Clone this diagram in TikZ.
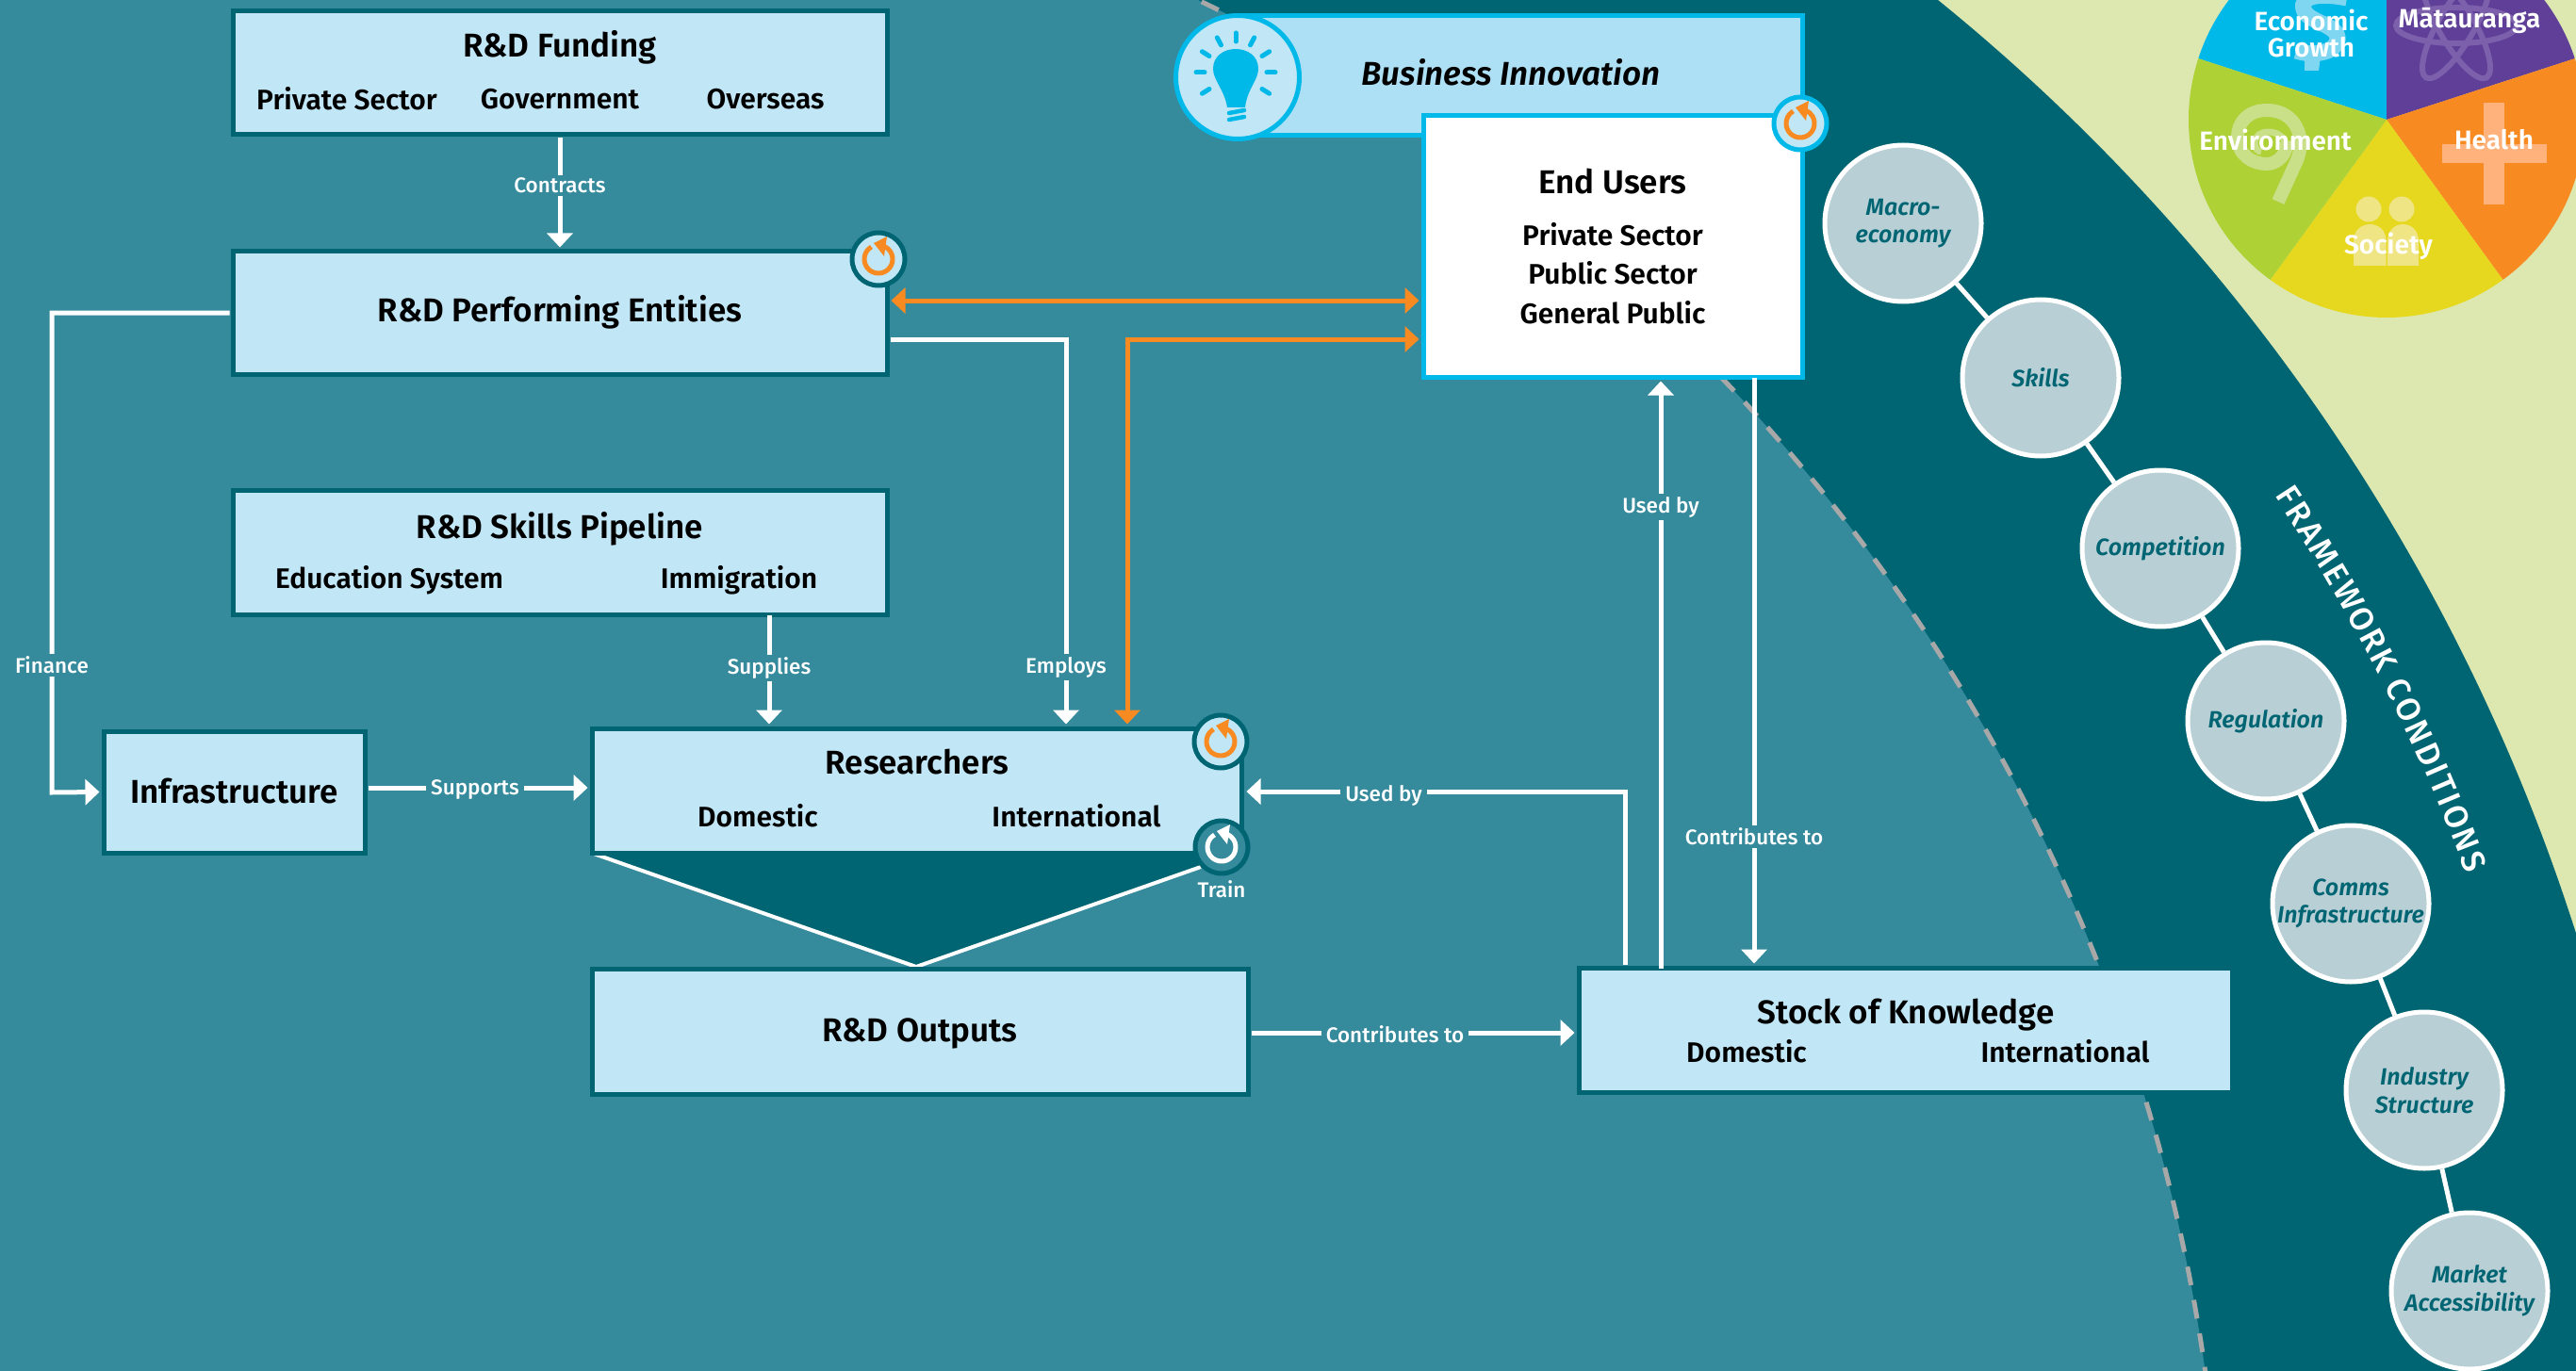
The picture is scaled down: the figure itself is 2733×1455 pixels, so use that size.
\documentclass[tikz,border=0pt]{standalone}
\usepackage{fontspec}
\setmainfont{Fira Sans}[UprightFont=* Medium,ItalicFont=* Medium Italic,BoldFont=* SemiBold,BoldItalicFont=* SemiBold Italic]
\usetikzlibrary{arrows.meta,decorations.text}
\definecolor{midteal}{HTML}{358A9C}
\definecolor{darkteal}{HTML}{006573}
\definecolor{lightbox}{HTML}{C1E6F6}
\definecolor{bizblue}{HTML}{ADE0F5}
\definecolor{cyanx}{HTML}{00B9E8}
\definecolor{orangex}{HTML}{F88A22}
\definecolor{greenbg}{HTML}{DCE8AF}
\definecolor{circfill}{HTML}{B8CFD5}
\definecolor{dashgrey}{HTML}{A8A8A8}
\definecolor{piepurple}{HTML}{5F3F97}
\definecolor{pieyellow}{HTML}{E6D81F}
\definecolor{piegreen}{HTML}{AED136}
\definecolor{iccyan}{HTML}{7FD6F1}
\definecolor{icpurple}{HTML}{7C60AB}
\definecolor{icorange}{HTML}{FFB27C}
\definecolor{icyellow}{HTML}{F0E585}
\definecolor{icgreen}{HTML}{C9DF88}
\newcommand{\fwfont}{\color{white}\fontsize{35}{38}\selectfont}
\tikzset{
  rdbox/.style={draw=darkteal,line width=5pt,fill=lightbox,inner sep=0pt},
  cybox/.style={draw=cyanx,line width=5pt,inner sep=0pt},
  title/.style={inner sep=0pt,font=\bfseries\fontsize{35}{40}\selectfont,text=black},
  sub/.style={inner sep=0pt,font=\bfseries\fontsize{30}{34}\selectfont,text=black},
  lbl/.style={fill=midteal,text=white,inner xsep=5pt,inner ysep=3pt,font=\fontsize{22.5}{26}\selectfont},
  wire/.style={draw=white,line width=5pt,-{Triangle[length=15pt,width=27pt]},shorten >=2pt,shorten <=1pt},
  owire/.style={draw=orangex,line width=5pt,{Triangle[length=15pt,width=27pt]}-{Triangle[length=15pt,width=27pt]},shorten >=2pt,shorten <=2pt},
  fcirc/.style={circle,draw=white,line width=5pt,fill=circfill,minimum size=166pt,inner sep=0pt,align=center,text=darkteal,font=\bfseries\itshape\fontsize{25}{29.5}\selectfont},
  badge/.style={circle,line width=5pt,minimum size=56pt,inner sep=0pt},
  pielbl/.style={inner sep=0pt,text=white,align=center,font=\bfseries\fontsize{28}{28}\selectfont},
  pics/resetsym/.style={code={
    \draw[#1,line width=5pt] (0,0)++(-120:15) arc[start angle=-120,end angle=-425,radius=15];
    \fill[#1] (9,-24) -- (-5,-17) -- (6,-3) -- cycle;
  }}
}
\begin{document}
\begin{tikzpicture}[x=1pt,y=-1pt]
\useasboundingbox (0,0) rectangle (2733,1455);
\clip (0,0) rectangle (2733,1455);
% backgrounds
\fill[greenbg] (0,0) rectangle (2733,1455);
\fill[darkteal] (740,1625) circle[radius=2091];
\fill[midteal] (453,1721) circle[radius=1905];
\draw[dashgrey,line width=5pt,dash pattern=on 20pt off 16pt] (453,1721) circle[radius=1905];
% pie
\coordinate (pc) at (2532,127);
\fill[cyanx] (pc) -- ++(-162:210) arc[start angle=-162,end angle=-90,radius=210] -- cycle;
\fill[piepurple] (pc) -- ++(-90:210) arc[start angle=-90,end angle=-18,radius=210] -- cycle;
\fill[orangex] (pc) -- ++(-18:210) arc[start angle=-18,end angle=54,radius=210] -- cycle;
\fill[pieyellow] (pc) -- ++(54:210) arc[start angle=54,end angle=126,radius=210] -- cycle;
\fill[piegreen] (pc) -- ++(126:210) arc[start angle=126,end angle=198,radius=210] -- cycle;
% pie icons
\draw[iccyan,line width=17pt] (2490,-2) .. controls (2460,-8) and (2440,-4) .. (2444,10) .. controls (2448,24) and (2482,26) .. (2480,42) .. controls (2478,56) and (2455,60) .. (2436,54);
\fill[iccyan] (2445,52) -- (2463,52) -- (2460,75) -- (2445,75) -- cycle;
\begin{scope}[shift={(2606,27)}]
\foreach \r in {0,60,120}
  \draw[icpurple,line width=6pt,rotate=\r] (0,0) circle[x radius=64,y radius=19];
\end{scope}
\fill[icorange] (2635,109) rectangle (2657,217);
\fill[icorange] (2591,153) rectangle (2702,173);
\fill[icyellow] (2513,222) circle[radius=13.5];
\fill[icyellow] (2548,222) circle[radius=13.5];
\fill[icyellow] (2497,282) -- (2497,256) .. controls (2497,232) and (2532,232) .. (2531.5,256) -- (2531.5,282) -- cycle;
\fill[icyellow] (2533,282) -- (2533,256) .. controls (2533,232) and (2566,232) .. (2566,256) -- (2566,282) -- cycle;
\draw[icgreen,line width=14pt] (2417,214) -- (2437,170) .. controls (2447,145) and (2435,117) .. (2405,117) .. controls (2385,117) and (2374,130) .. (2374,145) .. controls (2374,165) and (2390,174) .. (2405,174) .. controls (2417,174) and (2428,162) .. (2425,150);
\draw[icgreen,line width=7pt] (2425,152) .. controls (2420,136) and (2392,136) .. (2392,152) .. controls (2392,158) and (2396,161) .. (2399,161);
\node[pielbl] (pecon) at (2452,35) {Economic\\Growth};
\node[pielbl] (pmat) at (2620,22) {Mātauranga};
\node[pielbl] (penv) at (2414,148) {Environment};
\node[pielbl] (phea) at (2646,148) {Health};
\node[pielbl] (psoc) at (2534,261) {Society};
% framework chain
\node[fcirc] (cmac) at (2019,237) {Macro-\\economy};
\node[fcirc] (cski) at (2165,401) {Skills};
\node[fcirc] (ccom) at (2292,582) {Competition};
\node[fcirc] (creg) at (2404,765) {Regulation};
\node[fcirc] (ccms) at (2494,959) {Comms\\Infrastructure};
\node[fcirc] (cind) at (2572,1157) {Industry\\Structure};
\node[fcirc] (cmkt) at (2620,1370) {Market\\Accessibility};
\draw[white,line width=5pt] (cmac) -- (cski) (cski) -- (ccom) (ccom) -- (creg) (creg) -- (ccms) (ccms) -- (cind) (cind) -- (cmkt);
\path[decorate,decoration={text along path,text align={fit to path},text={|\fwfont|FRAMEWORK CONDITIONS}}]
  (740,1625) ++(-33.3:2002) arc[start angle=-33.3,end angle=-20.4,radius=2002];
% triangle under researchers
\coordinate (apex) at (972,1026);
\coordinate (triL) at (630,906);
\coordinate (triR) at (1274,920);
\fill[darkteal] (triL) -- (apex) -- (triR) -- (1296,905) -- cycle;
\draw[white,line width=4pt,line join=round] (triL) -- (apex) -- (triR);
% boxes
\node[rdbox,minimum width=694pt,minimum height=131pt] (fund) at (594,77.5) {};
\node[rdbox,minimum width=694pt,minimum height=130pt] (perf) at (594,332) {};
\node[rdbox,minimum width=694pt,minimum height=132pt] (skil) at (594,586) {};
\node[rdbox,minimum width=277pt,minimum height=129pt] (infra) at (248.5,840.5) {};
\node[rdbox,minimum width=689pt,minimum height=132pt] (res) at (972.5,839) {};
\node[rdbox,minimum width=696pt,minimum height=133pt] (outp) at (976,1094.5) {};
\node[rdbox,minimum width=693pt,minimum height=132pt] (stock) at (2021.5,1093) {};
\node[cybox,fill=bizblue,minimum width=600pt,minimum height=127pt] (biz) at (1612,80.5) {};
\node[cybox,fill=white,minimum width=402pt,minimum height=277pt] (users) at (1711,261.5) {};
% box texts
\node[title] (tfund) at (594,50) {R\&D Funding};
\node[sub] (f1) at (368,105) {Private Sector};
\node[sub] (f2) at (594,105) {Government};
\node[sub] (f3) at (812,105) {Overseas};
\node[title] (tperf) at (594,331) {R\&D Performing Entities};
\node[title] (tinf) at (248.5,840) {Infrastructure};
\node[title] (tout) at (976,1097) {R\&D Outputs};
\node[title] (tskil) at (594,561) {R\&D Skills Pipeline};
\node[sub] (s1) at (413,616) {Education System};
\node[sub] (s2) at (784,616) {Immigration};
\node[title] (tres) at (973,809) {Researchers};
\node[sub] (r1) at (804,866) {Domestic};
\node[sub] (r2) at (1142,866) {International};
\node[title] (tstock) at (2022,1077) {Stock of Knowledge};
\node[sub] (k1) at (1853,1116) {Domestic};
\node[sub] (k2) at (2191,1116) {International};
\node[title,font=\bfseries\itshape\fontsize{35}{40}\selectfont] (tbiz) at (1603,77) {Business Innovation};
\node[title] (tusers) at (1711,193) {End Users};
\node[sub] (u1) at (1711,249) {Private Sector};
\node[sub] (u2) at (1711,290) {Public Sector};
\node[sub] (u3) at (1711,332) {General Public};
% connectors
\draw[wire] (fund.south) -- (perf.north);
\node[lbl] (lcon) at (594,197) {Contracts};
\coordinate (finc) at (55,841);
\draw[wire] (perf.west) -| (finc) -- (infra.west);
\node[lbl] (lfin) at (55,706) {Finance};
\coordinate (empc) at (1131,360);
\draw[wire] (perf.east |- empc) -- (empc) -- (res.north -| empc);
\node[lbl] (lemp) at (1131,708) {Employs};
\coordinate (supc) at (816,652);
\draw[wire] (supc) -- (res.north -| supc);
\node[lbl] (lsup) at (816,709) {Supplies};
\draw[wire] (infra.east |- 0,836) -- (res.west |- 0,836);
\node[lbl] (lspt) at (504,838) {Supports};
\draw[owire] (perf.east |- 0,319) -- (users.west |- 0,319);
\coordinate (orc) at (1196,360);
\draw[owire] (users.west |- orc) -- (orc) -- (res.north -| orc);
\coordinate (ub1) at (1762,1029);
\draw[wire] (ub1) -- (users.south -| ub1);
\node[lbl] (lub1) at (1762,538) {Used by};
\coordinate (ct1) at (1861,400);
\draw[wire] (ct1) -- (stock.north -| ct1);
\node[lbl] (lct1) at (1861,888) {Contributes to};
\coordinate (ub2) at (1724,840);
\draw[wire,shorten >=3pt] (stock.north -| ub2) -- (ub2) -- (res.east |- ub2);
\node[lbl] (lub2) at (1468,844) {Used by};
\draw[wire] (outp.east |- 0,1096) -- (stock.west |- 0,1096);
\node[lbl] (lct2) at (1480,1098) {Contributes to};
% bulb
\node[badge,draw=cyanx,fill=lightbox,minimum size=131pt] (bulb) at (1313,82) {};
\begin{scope}[shift={(1311,77)}]
\foreach \a in {0,32,148,180,-32,-148,-62,-118,-90}
  \draw[cyanx,line width=5pt,line cap=round] (\a:33) -- (\a:42);
\fill[cyanx] (-9,37) .. controls (-12,18) and (-24,8) .. (-24,-4) .. controls (-24,-32) and (24,-32) .. (24,-4) .. controls (24,8) and (12,18) .. (10,37) -- cycle;
\draw[cyanx,line width=4.5pt,line cap=round] (-7,43) -- (9,40) (-7,50) -- (9,47);
\end{scope}
% badges
\node[badge,draw=cyanx,fill=lightbox] (busers) at (1910,131) {};
\pic at (busers.center) {resetsym=orangex};
\node[badge,draw=darkteal,fill=lightbox] (bperf) at (932,275) {};
\pic at (bperf.center) {resetsym=orangex};
\node[badge,draw=darkteal,fill=lightbox] (bres) at (1295,787) {};
\pic at (bres.center) {resetsym=orangex};
\node[badge,draw=darkteal,fill=midteal] (btrain) at (1296,899) {};
\pic at (btrain.center) {resetsym=white};
\node[inner sep=0pt,text=white,font=\fontsize{22.5}{26}\selectfont] (ltrain) at (1296,944) {Train};
\end{tikzpicture}
\end{document}
